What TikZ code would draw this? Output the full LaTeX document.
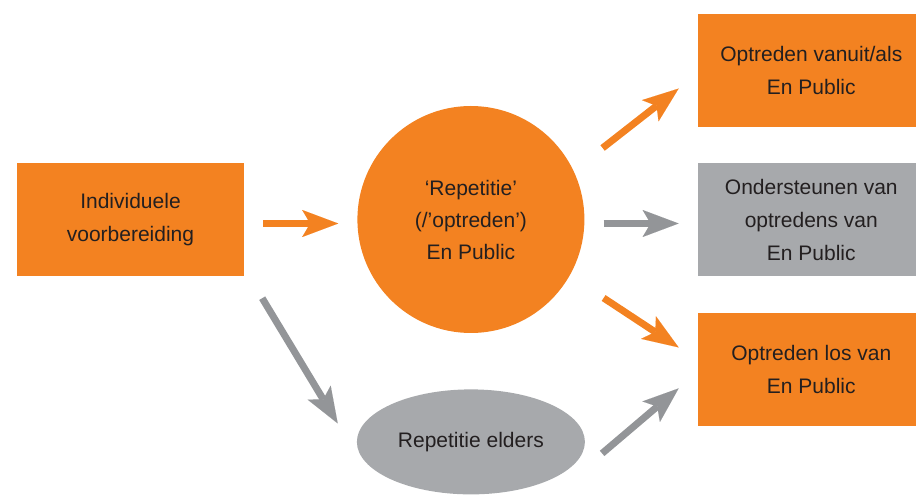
\documentclass[tikz,border=0pt]{standalone}
\usepackage{fontspec}
\setmainfont{Liberation Sans}
\usepackage{tikz}
\usetikzlibrary{shapes.geometric}
\usetikzlibrary{positioning}
\usetikzlibrary{arrows.meta}
\definecolor{epOrange}{RGB}{243,130,33}
\definecolor{epGrey}{RGB}{167,169,172}
\definecolor{epArrowGrey}{RGB}{147,149,152}
\definecolor{epText}{RGB}{35,31,32}
\tikzstyle{orangebox} = [rectangle, minimum width=227pt, minimum height=113pt, inner sep=0pt, text centered, align=center, fill=epOrange, text=epText, font=\fontsize{21}{33}\selectfont]
\tikzstyle{greybox} = [orangebox, fill=epGrey]
\tikzstyle{orangedisc} = [circle, minimum size=227pt, inner sep=0pt, text centered, align=center, fill=epOrange, text=epText, font=\fontsize{21}{32}\selectfont]
\tikzstyle{greyoval} = [ellipse, minimum width=228pt, minimum height=105pt, inner sep=0pt, text centered, fill=epGrey, text=epText, font=\fontsize{21}{32}\selectfont]
\tikzstyle{orangearrow} = [line width=7pt, draw=epOrange, -{Stealth[length=36pt, width=27pt, inset=8pt, line width=0.01pt]}]
\tikzstyle{greyarrow} = [orangearrow, draw=epArrowGrey]

\begin{document}
\begin{tikzpicture}[x=1pt, y=1pt, node distance=113pt]
        \useasboundingbox (0,0) rectangle (916,495);
        \node (prep) [orangebox] at (130.5,275.5) {Individuele\\voorbereiding};
        \node (rep) [orangedisc, right=of prep] {‘Repetitie’\\(/’optreden’)\\En Public};
        \node (steun) [greybox, right=of rep] {Ondersteunen van\\optredens van\\En Public};
        \node (vanuit) [orangebox, above=36pt of steun] {Optreden vanuit/als\\En Public};
        \node (los) [orangebox, below=37pt of steun] {Optreden los van\\En Public};
        \node (elders) [greyoval, below=56pt of rep] {Repetitie elders};

        \draw [orangearrow, shorten <=19pt, shorten >=19pt] ([yshift=-4pt]prep.east) -- ([yshift=-4pt]rep.west);
        \draw [greyarrow, shorten <=19pt, shorten >=19pt] ([yshift=-4pt]rep.east) -- ([yshift=-4pt]steun.west);
        \draw [orangearrow] ([shift={(18,71.5)}]rep.east) -- ([shift={(-19,-18.5)}]vanuit.west);
        \draw [orangearrow] ([shift={(19,-78.5)}]rep.east) -- ([shift={(-19,22.5)}]los.west);
        \draw [greyarrow] ([shift={(18,-22)}]prep.south east) -- ([shift={(-19,18.5)}]elders.west);
        \draw [greyarrow] ([shift={(17,-11.5)}]elders.east) -- ([shift={(-19,-18.5)}]los.west);
    \end{tikzpicture}
\end{document}
